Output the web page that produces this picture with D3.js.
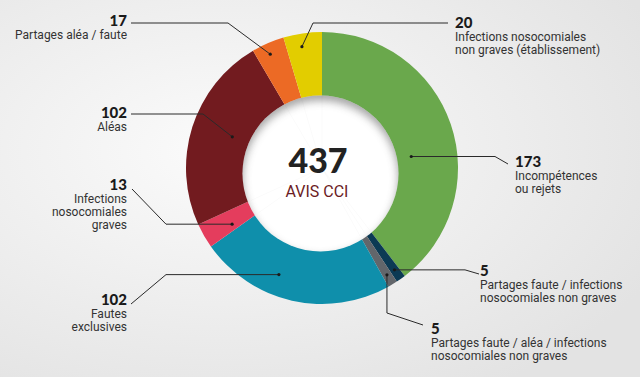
<!DOCTYPE html>
<html>
<head>
<meta charset="utf-8">
<script src="https://cdn.jsdelivr.net/npm/d3@7"></script>
<style>
  body { margin: 0; }
  svg { display: block; }
</style>
</head>
<body>
<svg id="donut" width="640" height="377"></svg>
<script>
// Data
const categories = [
  ["Incompétences", "ou rejets"],
  ["Partages faute / infections", "nosocomiales non graves"],
  ["Partages faute / aléa / infections", "nosocomiales non graves"],
  ["Fautes", "exclusives"],
  ["Infections", "nosocomiales", "graves"],
  ["Aléas"],
  ["Partages aléa / faute"],
  ["Infections nosocomiales", "non graves (établissement)"]
];
const values = [173, 5, 5, 102, 13, 102, 17, 20];
const colors = ["#6aa84c", "#0c3a54", "#62666b", "#0f8fab", "#e43d5d", "#721b1f", "#ec6a25", "#e2cd00"];
const totalLabel = "AVIS CCI";

// Label layout: text anchor + leader (null coord = taken from the dot on the slice)
const labelLayout = [
  { anchor: "start", x: 515, y: 167, t: 0.58, r: 90,  pts: [[508, 164], [495, null]] },
  { anchor: "start", x: 480, y: 276, t: 0.5,  r: 125, pts: [[479, 274], [465, null]] },
  { anchor: "start", x: 431, y: 334, t: 0.5,  r: 125, pts: [[423, 325], [null, 313]] },
  { anchor: "end",   x: 127, y: 305, t: 0.61, r: 115, pts: [[131, 304], [166, null]] },
  { anchor: "end",   x: 127, y: 190, t: 0.3,  r: 106, pts: [[132, 189], [166, null]] },
  { anchor: "end",   x: 127, y: 118, t: 0.52, r: 95,  pts: [[131, 114], [203, 114]] },
  { anchor: "end",   x: 127, y: 26,  t: 0.43, r: 125, pts: [[131, 23], [228, 23]] },
  { anchor: "start", x: 455, y: 28,  t: 0.43, r: 123, pts: [[448, 23], [313, 23]] }
];

const svg = d3.select("#donut"),
      width = +svg.attr("width"),
      height = +svg.attr("height"),
      cx = 322, cy = 168,
      outerR = 136;

const defs = svg.append("defs");

// background
const bg = defs.append("radialGradient").attr("id", "bg")
  .attr("cx", "35%").attr("cy", "40%").attr("r", "75%");
bg.append("stop").attr("offset", "0%").attr("stop-color", "#fbfbfb");
bg.append("stop").attr("offset", "100%").attr("stop-color", "#e3e3e3");
svg.append("rect").attr("width", width).attr("height", height).attr("fill", "url(#bg)");

defs.append("filter").attr("id", "blur")
  .attr("x", "-20%").attr("y", "-20%").attr("width", "140%").attr("height", "140%")
  .append("feGaussianBlur").attr("stdDeviation", 4);

const hole = { x: 320.5, y: 173.5, r: 78 };
defs.append("clipPath").attr("id", "holeClip")
  .append("circle").attr("cx", hole.x).attr("cy", hole.y).attr("r", hole.r);

const g = svg.append("g").attr("transform", `translate(${cx},${cy})`);

const pie = d3.pie().sort(null).value(d => d);
const arcs = pie(values);

const arc = d3.arc().innerRadius(70).outerRadius(outerR);

g.selectAll("path.slice")
  .data(arcs)
  .join("path")
  .attr("class", "slice")
  .attr("d", arc)
  .attr("fill", (d, i) => colors[i]);

// white centre with inner shadow
svg.append("circle")
  .attr("cx", hole.x).attr("cy", hole.y).attr("r", hole.r)
  .attr("fill", "#fff");

const shade = svg.append("g").attr("clip-path", "url(#holeClip)");
shade.append("circle")
  .attr("cx", hole.x).attr("cy", hole.y + 5).attr("r", hole.r + 6)
  .attr("fill", "none")
  .attr("stroke", "#555")
  .attr("stroke-width", 12)
  .attr("opacity", 0.55)
  .attr("filter", "url(#blur)");

// faint slice boundaries inside the hole
shade.selectAll("line.faint")
  .data(arcs)
  .join("line")
  .attr("x1", cx).attr("y1", cy)
  .attr("x2", d => cx + hole.r * Math.sin(d.startAngle))
  .attr("y2", d => cy - hole.r * Math.cos(d.startAngle))
  .attr("stroke", "#000")
  .attr("stroke-opacity", 0.018);

// centre text
svg.append("text")
  .attr("x", 318).attr("y", 173)
  .attr("text-anchor", "middle")
  .attr("font-family", "Lato, sans-serif")
  .attr("font-weight", 900)
  .attr("font-size", 34)
  .attr("fill", "#222")
  .text(d3.sum(values));

svg.append("text")
  .attr("x", 317).attr("y", 197)
  .attr("text-anchor", "middle")
  .attr("font-family", "Roboto, sans-serif")
  .attr("font-size", 16)
  .attr("fill", "#6b1b24")
  .text(totalLabel);

// leaders and labels
arcs.forEach((d, i) => {
  const L = labelLayout[i];
  const a = d.startAngle + L.t * (d.endAngle - d.startAngle);
  const dot = [cx + L.r * Math.sin(a), cy - L.r * Math.cos(a)];
  const pts = L.pts.map(p => [p[0] == null ? dot[0] : p[0], p[1] == null ? dot[1] : p[1]]);
  pts.push(dot);

  svg.append("path")
    .attr("d", d3.line()(pts))
    .attr("fill", "none")
    .attr("stroke", "#2a2a2a")
    .attr("stroke-width", 1);

  svg.append("circle")
    .attr("cx", dot[0]).attr("cy", dot[1]).attr("r", 1.6)
    .attr("fill", "#1a1a1a");

  const t = svg.append("text")
    .attr("text-anchor", L.anchor)
    .attr("fill", "#333")
    .attr("font-family", "Roboto, sans-serif");

  t.append("tspan")
    .attr("x", L.x).attr("y", L.y)
    .attr("font-family", "Lato, sans-serif")
    .attr("font-weight", 900)
    .attr("font-size", 15)
    .attr("fill", "#1a1a1a")
    .text(values[i]);

  categories[i].forEach((line, k) => {
    t.append("tspan")
      .attr("x", L.x).attr("y", L.y + 13 + k * 13)
      .attr("font-size", 12)
      .text(line);
  });
});
</script>
</body>
</html>
